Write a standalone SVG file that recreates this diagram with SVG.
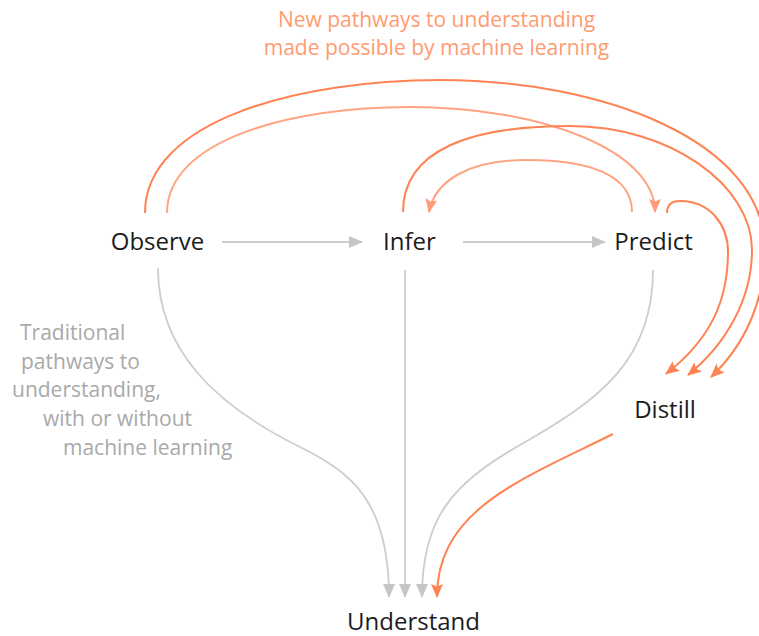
<svg xmlns="http://www.w3.org/2000/svg" width="759" height="636" viewBox="0 0 759 636">
  <style>
    text { font-family: "Open Sans", "Noto Sans", "Liberation Sans", sans-serif; }
    .node { font-size: 24px; fill: #1c1c1c; text-anchor: middle; }
    .title { font-size: 21px; fill: #ff9b70; text-anchor: middle; }
    .note { font-size: 21px; fill: #a9a9a9; }
    .gray { fill: none; stroke: #cdcdcd; stroke-width: 1.8; }
    .ml { fill: none; stroke: #ff8352; stroke-width: 2; }
    .ml-soft { fill: none; stroke: #ffa482; stroke-width: 2; }
  </style>
  <defs>
    <marker id="arrow-gray" markerUnits="userSpaceOnUse" markerWidth="14" markerHeight="12" refX="13" refY="6" orient="auto">
      <path d="M0,0 L14,6 L0,12 z" fill="#c6c6c6"/>
    </marker>
    <marker id="arrow-ml" markerUnits="userSpaceOnUse" markerWidth="14" markerHeight="12" refX="13" refY="6" orient="auto">
      <path d="M0,0 L14,6 L0,12 L2.5,6 z" fill="#ff8352"/>
    </marker>
    <marker id="arrow-ml-soft" markerUnits="userSpaceOnUse" markerWidth="14" markerHeight="12" refX="13" refY="6" orient="auto">
      <path d="M0,0 L14,6 L0,12 L2.5,6 z" fill="#ff9c76"/>
    </marker>
  </defs>
  <rect width="759" height="636" fill="#ffffff"/>

  <!-- captions -->
  <g id="caption-new">
    <text class="title" x="436.5" y="27">New pathways to understanding</text>
    <text class="title" x="436.5" y="55">made possible by machine learning</text>
  </g>
  <g id="caption-traditional">
    <text class="note" x="20" y="340">Traditional</text>
    <text class="note" x="21" y="368.5">pathways to</text>
    <text class="note" x="12" y="397">understanding,</text>
    <text class="note" x="43" y="426">with or without</text>
    <text class="note" x="63" y="455">machine learning</text>
  </g>

  <g id="connectors">
    <!-- traditional pathways -->
    <path class="gray" d="M222,242 L362,242" marker-end="url(#arrow-gray)"/>
    <path class="gray" d="M463,242 L605,242" marker-end="url(#arrow-gray)"/>
    <path class="gray" d="M158,268 C158,350 215,405 300,447 C350,472 389,500 389,597" marker-end="url(#arrow-gray)"/>
    <path class="gray" d="M405,270 L405,597" marker-end="url(#arrow-gray)"/>
    <path class="gray" d="M653,270 C653,360 600,400 520,445 C450,485 422,520 422,597" marker-end="url(#arrow-gray)"/>

    <!-- machine learning pathways -->
    <path class="ml" d="M145,213 C145,120 300,80 440,80 C600,80 765,140 765,250 C765,300 745,345 711,377" marker-end="url(#arrow-ml)"/>
    <path class="ml-soft" d="M167,213 C167,140 290,107 410,107 C540,107 655,150 655,212" marker-end="url(#arrow-ml-soft)"/>
    <path class="ml" d="M403,212 C403,150 470,126 570,126 C670,126 752,185 752,250 C752,300 725,345 688,375" marker-end="url(#arrow-ml)"/>
    <path class="ml-soft" d="M632,212 C632,175 590,160 527,160 C470,160 435,180 429,212" marker-end="url(#arrow-ml-soft)"/>
    <path class="ml" d="M667,213 C667,205 672,201 680,201 C710,201 729,225 728,255 C727,300 712,338 666,374" marker-end="url(#arrow-ml)"/>
    <path class="ml" d="M613,434 C520,480 437,510 437,597" marker-end="url(#arrow-ml)"/>
  </g>

  <g id="node-observe"><text class="node" x="157.5" y="250">Observe</text></g>
  <g id="node-infer"><text class="node" x="409.5" y="250">Infer</text></g>
  <g id="node-predict"><text class="node" x="653.5" y="250">Predict</text></g>
  <g id="node-distill"><text class="node" x="665" y="418">Distill</text></g>
  <g id="node-understand"><text class="node" x="413.5" y="630">Understand</text></g>
</svg>
